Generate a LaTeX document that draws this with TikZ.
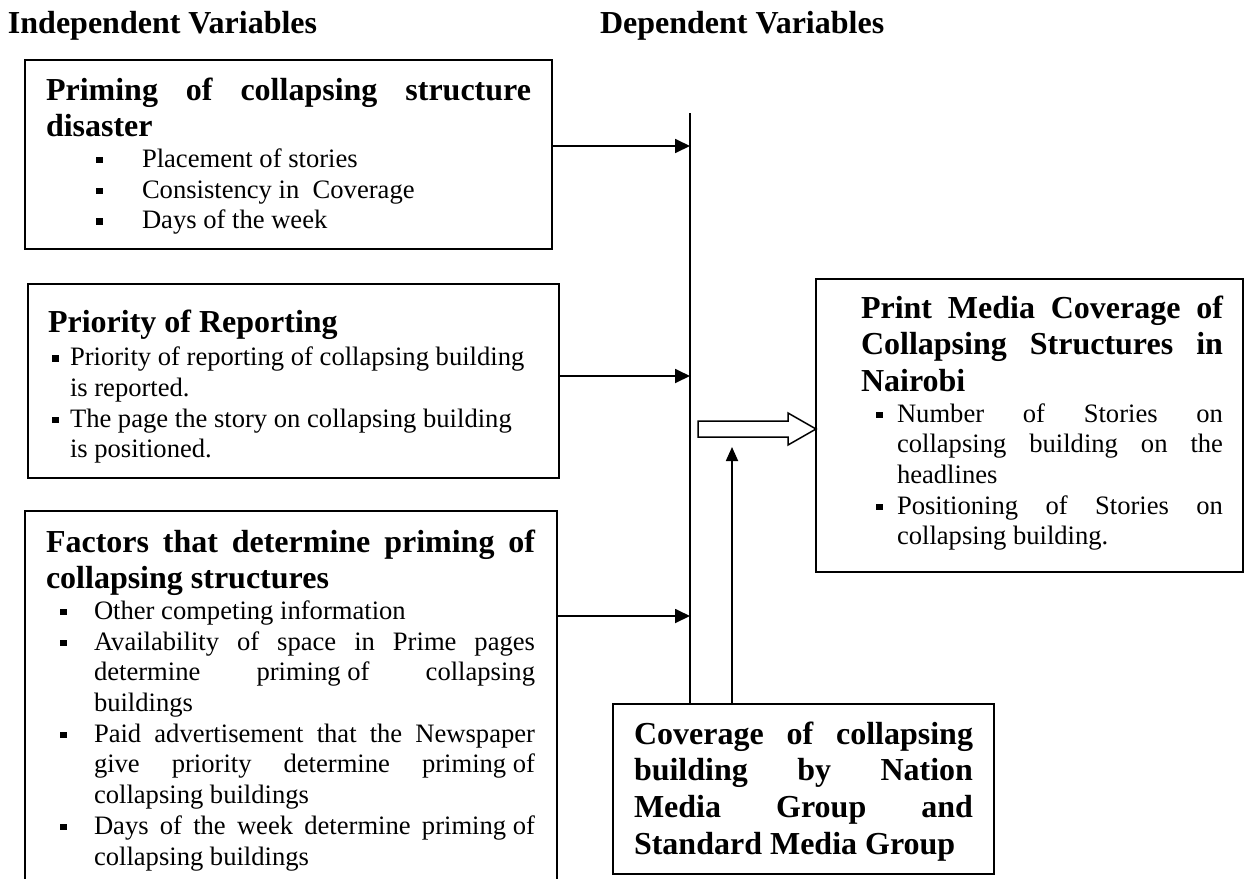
\documentclass[tikz,border=0pt]{standalone}
\usepackage{fontspec}
\setmainfont{Liberation Serif}
\usetikzlibrary{arrows.meta}
\newcommand{\ttlfont}{\fontsize{32}{36.7}\selectfont\bfseries}
\newcommand{\bdyfont}{\fontsize{26.6}{30.7}\selectfont}
\newcommand{\bsq}{\raisebox{4pt}{\rule{6.5pt}{6.5pt}}}
\newcommand{\bitem}[3]{\par\noindent\hangindent=#2pt\hangafter=1\relax\makebox[#2pt][l]{\hspace*{#1pt}\bsq}#3\par}
\hyphenpenalty=10000
\exhyphenpenalty=10000
\tolerance=10000
\hbadness=10000
\begin{document}
\begin{tikzpicture}[x=1pt,y=-1pt,
  box/.style={draw, line width=1.8pt, anchor=north west, inner sep=0pt, outer sep=0pt},
  txt/.style={anchor=base west, inner sep=0pt, outer sep=0pt, align=justify},
  hdr/.style={anchor=base west, inner sep=0pt, outer sep=0pt, font=\ttlfont},
  conn/.style={line width=1.8pt},
  arr/.style={line width=1.8pt, -{Triangle[length=15pt,width=14pt]}},
  hollow/.style={line width=1.5pt, fill=white, line join=miter}
  ]
\useasboundingbox (0,0) rectangle (1249,878);
\fill[white] (0,0) rectangle (1249,878);

% headers
\node[hdr] (hI) at (8,33) {Independent Variables};
\node[hdr] (hD) at (600,33) {Dependent Variables};

% boxes
\node[box, minimum width=527pt, minimum height=189pt] (b1) at (25,60) {};
\node[box, minimum width=531pt, minimum height=194pt] (b2) at (28,284) {};
\node[box, minimum width=532pt, minimum height=400pt] (b3) at (25,511) {};
\node[box, minimum width=381pt, minimum height=170pt] (b4) at (613,704) {};
\node[box, minimum width=427pt, minimum height=293pt] (rb) at (816,279) {};

% texts
\node[txt, text width=485pt] (t1) at (46,100) {{\ttlfont Priming of collapsing structure\linebreak disaster\par}{\bdyfont\bitem{50}{96}{Placement of stories}\bitem{50}{96}{Consistency in\ \ Coverage}\bitem{50}{96}{Days of the week}}};

\node[txt, text width=490pt] (t2) at (48,332) {{\ttlfont Priority of Reporting\par}{\bdyfont\vspace{3pt}\bitem{4}{22}{Priority of reporting of collapsing building\newline is reported.}\bitem{4}{22}{The page the story on collapsing building\newline is positioned.}}};

\node[txt, text width=489pt] (t3) at (46,552) {{\ttlfont Factors that determine priming of\linebreak collapsing structures\par}{\bdyfont\bitem{14}{48}{Other competing information}\bitem{14}{48}{Availability of space in Prime pages\linebreak determine priming\hspace{.25em}of collapsing\linebreak buildings}\bitem{14}{48}{Paid advertisement that the Newspaper\linebreak give priority determine priming\hspace{.25em}of\linebreak collapsing buildings}\bitem{14}{48}{Days of the week determine priming\hspace{.25em}of\linebreak collapsing buildings}}};

\node[txt, text width=339pt] (t4) at (634,744) {{\ttlfont Coverage of collapsing\linebreak building by Nation\linebreak Media Group and\linebreak Standard Media Group\par}};

\node[txt, text width=362pt] (t5) at (861,318) {{\ttlfont Print Media Coverage of\linebreak Collapsing Structures in\linebreak Nairobi\par}{\bdyfont\bitem{15}{36}{Number of Stories on\linebreak collapsing building on the\linebreak headlines}\bitem{15}{36}{Positioning of Stories on\linebreak collapsing building.}}};

% connectors
\coordinate (vtop) at (690,113);
\coordinate (y1) at (0,146);
\coordinate (y2) at (0,376);
\coordinate (y3) at (0,616);
\coordinate (uptip) at (732,447);
\coordinate (ha) at (0,429);

\draw[conn] (vtop) -- (vtop |- b4.north);
\draw[arr] (b1.east |- y1) -- (vtop |- y1);
\draw[arr] (b2.east |- y2) -- (vtop |- y2);
\draw[arr] (b3.east |- y3) -- (vtop |- y3);
\draw[line width=1.8pt, -{Triangle[length=14pt,width=12pt]}] (b4.north -| uptip) -- (uptip);

% hollow block arrow into the result box
\draw[hollow] (698,421) -- (788,421) -- (788,413) -- (rb.west |- ha) -- (788,445) -- (788,437) -- (698,437) -- cycle;
\end{tikzpicture}
\end{document}
